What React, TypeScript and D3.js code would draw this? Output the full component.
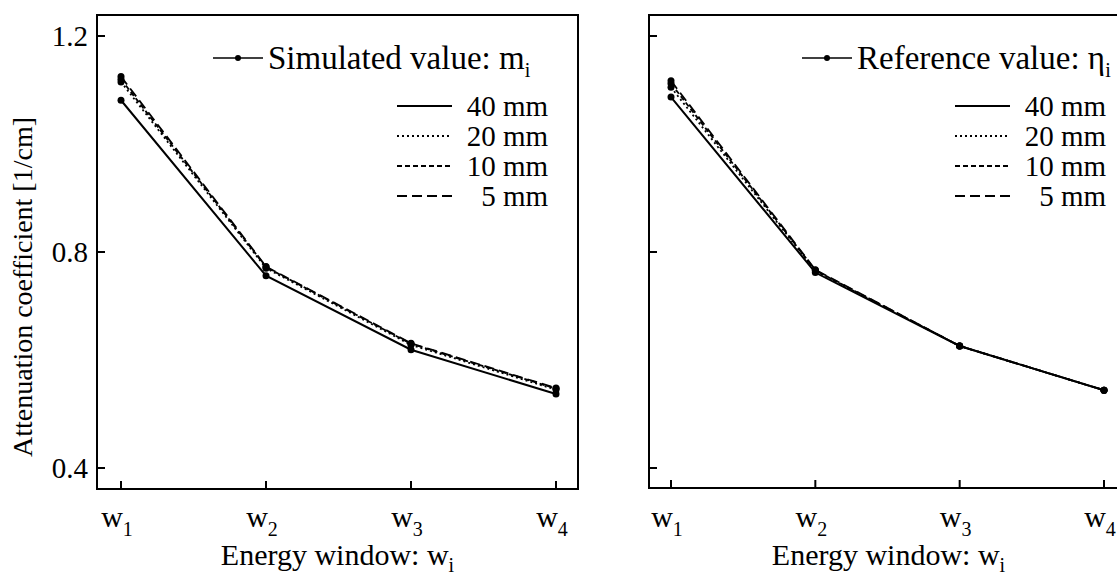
import React from "react";
import * as d3 from "d3";

const categories = ["1", "2", "3", "4"];
const seriesNames = ["40 mm", "20 mm", "10 mm", "5 mm"];
const yTicks = [0.4, 0.8, 1.2];

const sim40 = [1.081, 0.756, 0.619, 0.537];
const sim20 = [1.115, 0.77, 0.628, 0.545];
const sim10 = [1.12, 0.772, 0.63, 0.547];
const sim5 = [1.125, 0.773, 0.631, 0.548];

const ref40 = [1.087, 0.762, 0.626, 0.544];
const ref20 = [1.105, 0.765, 0.626, 0.544];
const ref10 = [1.112, 0.766, 0.626, 0.544];
const ref5 = [1.117, 0.767, 0.626, 0.544];

const dashes = ["none", "2,3", "5,3", "10,5"];
const FONT = "'Liberation Serif', 'Times New Roman', serif";

type PanelProps = {
  x0: number; x1: number; y0: number; y1: number;
  px0: number; px1: number;
  series: number[][];
  showYLabels: boolean;
  legendTitle: string; legendSub: string;
  legMarkX: number; legRowX: number; legRowTextRight: number;
};

function Panel(p: PanelProps) {
  const y = d3.scaleLinear().domain([0.4, 1.2]).range([468, 36]);
  const x = d3.scalePoint<string>().domain(categories).range([p.px0, p.px1]);
  const line = d3.line<number>().x((_, i) => x(categories[i])!).y((d) => y(d));
  const rowY = [106, 136, 166, 196];
  return (
    <g>
      <rect x={p.x0} y={p.y0} width={p.x1 - p.x0} height={p.y1 - p.y0} fill="none" stroke="#000" strokeWidth={2} />
      {yTicks.map((t) => (
        <g key={t}>
          <line x1={p.x0} x2={p.x0 + 8} y1={y(t)} y2={y(t)} stroke="#000" strokeWidth={2} />
          {p.showYLabels && (
            <text x={p.x0 - 9} y={y(t) + 10} textAnchor="end" fontSize={29} fontFamily={FONT}>{t.toFixed(1)}</text>
          )}
        </g>
      ))}
      {categories.map((c) => (
        <g key={c}>
          <line x1={x(c)} x2={x(c)} y1={p.y1} y2={p.y1 - 8} stroke="#000" strokeWidth={2} />
          <text x={x(c)! - 4} y={527} textAnchor="middle" fontSize={30} fontFamily={FONT}>
            w<tspan fontSize={20} dy={9}>{c}</tspan>
          </text>
        </g>
      ))}
      <text x={(p.x0 + p.x1) / 2} y={565} textAnchor="middle" fontSize={30} fontFamily={FONT}>
        Energy window: w<tspan fontSize={20} dy={7}>i</tspan>
      </text>
      {p.series.map((s, i) => (
        <g key={i}>
          <path d={line(s)!} fill="none" stroke="#000" strokeWidth={i === 0 ? 2 : 1.8} strokeDasharray={dashes[i]} />
          {s.map((v, j) => (
            <circle key={j} cx={x(categories[j])} cy={y(v)} r={3.5} fill="#000" />
          ))}
        </g>
      ))}
      {/* legend */}
      <line x1={p.legMarkX} x2={p.legMarkX + 50} y1={58} y2={58} stroke="#000" strokeWidth={1.5} />
      <circle cx={p.legMarkX + 25} cy={58} r={3} fill="#000" />
      <text x={p.legMarkX + 55} y={69} fontSize={33} fontFamily={FONT}>
        {p.legendTitle}<tspan fontSize={20} dy={8}>{p.legendSub}</tspan>
      </text>
      {seriesNames.map((n, i) => (
        <g key={n}>
          <line x1={p.legRowX} x2={p.legRowX + 55} y1={rowY[i]} y2={rowY[i]} stroke="#000" strokeWidth={i === 0 ? 2 : 1.8} strokeDasharray={dashes[i]} />
          <text x={p.legRowTextRight} y={rowY[i] + 10} textAnchor="end" fontSize={29} fontFamily={FONT}>{n}</text>
        </g>
      ))}
    </g>
  );
}

export default function App() {
  return (
    <svg width={1117} height={577} style={{ position: "absolute", left: 0, top: 0, background: "#fff" }}>
      <rect width={1117} height={577} fill="#fff" />
      <text transform="translate(32,287) rotate(-90)" textAnchor="middle" fontSize={28} fontFamily={FONT}>
        Attenuation coefficient [1/cm]
      </text>
      <Panel x0={97} x1={578} y0={15} y1={489} px0={121} px1={556}
        series={[sim40, sim20, sim10, sim5]} showYLabels={true}
        legendTitle="Simulated value: m" legendSub="i"
        legMarkX={213} legRowX={397} legRowTextRight={548} />
      <Panel x0={649} x1={1128} y0={15} y1={488} px0={671} px1={1104}
        series={[ref40, ref20, ref10, ref5]} showYLabels={false}
        legendTitle="Reference value: η" legendSub="i"
        legMarkX={802} legRowX={955} legRowTextRight={1106} />
    </svg>
  );
}
